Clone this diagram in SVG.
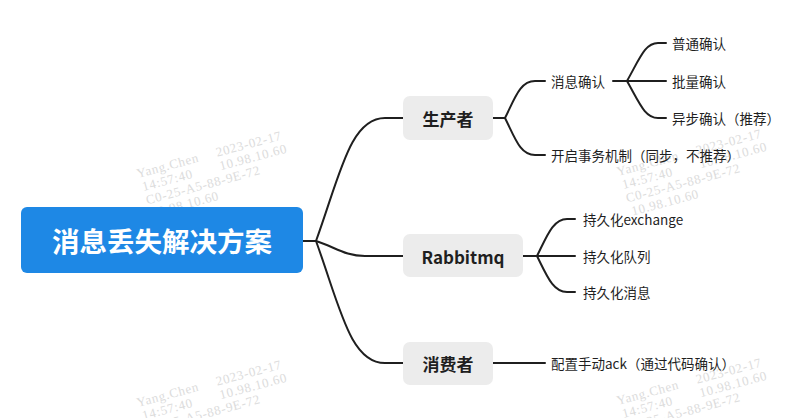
<svg xmlns="http://www.w3.org/2000/svg" width="793" height="418" viewBox="0 0 793 418">
<style>
.wm{font-family:"Liberation Serif","DejaVu Serif",serif;font-size:13px;letter-spacing:0.7px;fill:#dcdcdc}
.conn path{fill:none;stroke:#1f1f1f;stroke-width:2;stroke-linecap:round;stroke-linejoin:round}
.root rect{fill:#1e88e5}
.root text{font-family:"Noto Sans CJK SC","Noto Sans",sans-serif;font-size:27.5px;font-weight:bold;fill:#fff;text-anchor:middle;dominant-baseline:central}
.mid rect{fill:#ececec}
.mid text{font-family:"Noto Sans CJK SC","Noto Sans",sans-serif;font-size:17px;font-weight:bold;fill:#1f1f1f;text-anchor:middle;dominant-baseline:central}
.leaf text{font-family:"Noto Sans CJK SC","Noto Sans",sans-serif;font-size:13.5px;fill:#1f1f1f;dominant-baseline:central}
</style>
<defs>
<g id="wmk">
<text class="wm" x="0" y="0">Yang.Chen</text>
<text class="wm" x="82" y="0">2023-02-17</text>
<text class="wm" x="2" y="14">14:57:40</text>
<text class="wm" x="82" y="14">10.98.10.60</text>
<text class="wm" x="2" y="28">C0-25-A5-88-9E-72</text>
<text class="wm" x="4" y="42">10.98.10.60</text>
</g>
</defs>
<rect width="793" height="418" fill="#fff"/>
<g id="watermarks">
<use href="#wmk" transform="translate(138,178) rotate(-15)"/>
<use href="#wmk" transform="translate(618,176) rotate(-15)"/>
<use href="#wmk" transform="translate(138,407) rotate(-15)"/>
<use href="#wmk" transform="translate(618,405) rotate(-15)"/>
</g>
<g id="connectors" class="conn">
<path d="M302,241 H316"/>
<path d="M316,241 C340,175 350,118 385,118 H403"/>
<path d="M316,241 C335,247 345,256 365,256 H403"/>
<path d="M316,241 C340,307 350,363 385,363 H403"/>
<path d="M493,118 H505"/>
<path d="M505,118 C515,98 520,81 535,81 H545"/>
<path d="M505,118 C515,138 520,155 535,155 H545"/>
<path d="M613,81 H627"/>
<path d="M627,81 C640,58 645,43 658,43 H666"/>
<path d="M627,81 H666"/>
<path d="M627,81 C640,104 645,118 658,118 H666"/>
<path d="M523,256 H537"/>
<path d="M537,256 C547,236 553,219 567,219 H575"/>
<path d="M537,256 H575"/>
<path d="M537,256 C547,276 553,292 567,292 H575"/>
<path d="M493,363 H545"/>
</g>
<g id="root" class="root">
<rect x="21" y="207" width="282" height="66" rx="6"/>
<text x="162" y="240">消息丢失解决方案</text>
</g>
<g id="producer" class="mid">
<rect x="403" y="96" width="90" height="44" rx="7"/>
<text x="448" y="118">生产者</text>
</g>
<g id="rabbitmq" class="mid">
<rect x="403" y="234" width="120" height="43" rx="7"/>
<text x="463" y="256">Rabbitmq</text>
</g>
<g id="consumer" class="mid">
<rect x="403" y="342" width="90" height="43" rx="7"/>
<text x="448" y="363">消费者</text>
</g>
<g id="msg-confirm" class="leaf"><text x="551" y="81">消息确认</text></g>
<g id="normal-confirm" class="leaf"><text x="672" y="43">普通确认</text></g>
<g id="batch-confirm" class="leaf"><text x="672" y="81">批量确认</text></g>
<g id="async-confirm" class="leaf"><text x="672" y="118">异步确认（推荐）</text></g>
<g id="transaction" class="leaf"><text x="551" y="155">开启事务机制（同步，不推荐）</text></g>
<g id="persist-exchange" class="leaf"><text x="583" y="219">持久化exchange</text></g>
<g id="persist-queue" class="leaf"><text x="583" y="256">持久化队列</text></g>
<g id="persist-msg" class="leaf"><text x="583" y="292">持久化消息</text></g>
<g id="manual-ack" class="leaf"><text x="551" y="363">配置手动ack（通过代码确认）</text></g>
</svg>
